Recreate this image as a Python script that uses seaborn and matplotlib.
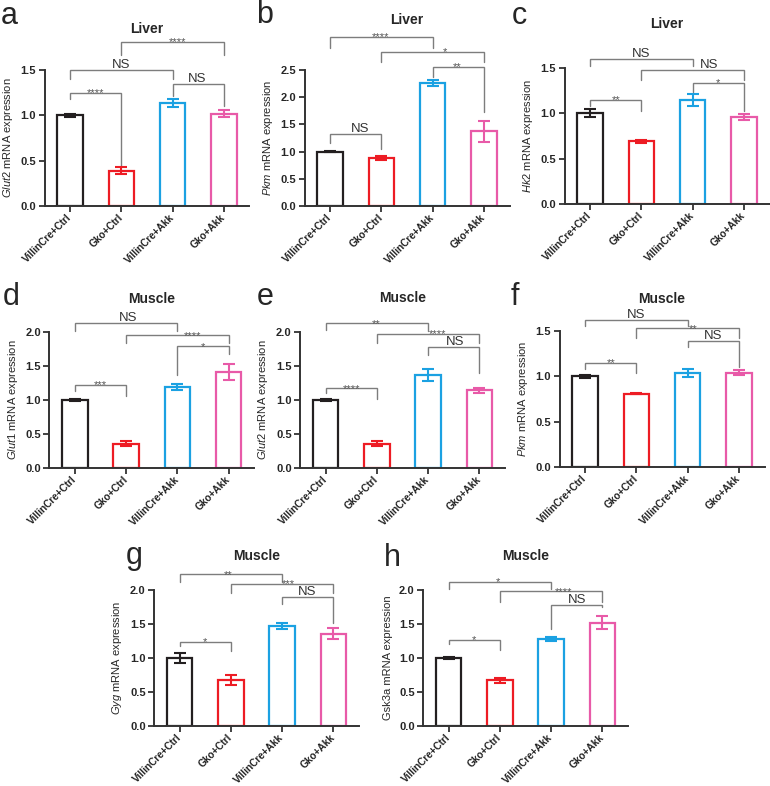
import numpy as np
import pandas as pd
import matplotlib
matplotlib.use('Agg')
import matplotlib.pyplot as plt
from matplotlib.ticker import FormatStrFormatter
import seaborn as sns

# groups shared by every panel
groups = ['VillinCre+Ctrl', 'Gko+Ctrl', 'VillinCre+Akk', 'Gko+Akk']
colors = ['#231f20', '#ed1c24', '#1ba1e2', '#e85aa8']

panel_letters = ['a', 'b', 'c', 'd', 'e', 'f', 'g', 'h']
tissues = ['Liver', 'Liver', 'Liver', 'Muscle', 'Muscle', 'Muscle', 'Muscle', 'Muscle']
genes = ['Glut2', 'Pkm', 'Hk2', 'Glut1', 'Glut2', 'Pkm', 'Gyg', 'Gsk3a']
gene_italic = [True, True, True, True, True, True, True, False]

# mean relative expression per group
means = [
    [1.00, 0.39, 1.14, 1.02],
    [1.00, 0.88, 2.26, 1.37],
    [1.00, 0.69, 1.15, 0.96],
    [1.00, 0.36, 1.19, 1.41],
    [1.00, 0.36, 1.37, 1.14],
    [1.00, 0.81, 1.04, 1.04],
    [1.00, 0.68, 1.47, 1.36],
    [1.00, 0.67, 1.28, 1.52],
]
sems = [
    [0.02, 0.035, 0.045, 0.035],
    [0.01, 0.03, 0.06, 0.19],
    [0.045, 0.02, 0.065, 0.03],
    [0.01, 0.03, 0.045, 0.12],
    [0.01, 0.03, 0.09, 0.03],
    [0.02, 0.005, 0.045, 0.025],
    [0.07, 0.07, 0.04, 0.08],
    [0.02, 0.04, 0.03, 0.10],
]
y_max = [1.5, 2.5, 1.5, 2.0, 2.0, 1.5, 2.0, 2.0]

# significance brackets: (label, bar i, bar j, bracket y, left leg end, right leg end, label x)
brackets = [
    [('****', 1, 3, 1.81, 1.66, 1.66, 2.09), ('NS', 0, 2, 1.50, 1.40, 1.40, 1.0),
     ('NS', 2, 3, 1.35, 1.21, 1.10, 2.48), ('****', 0, 1, 1.25, 1.18, 0.44, 0.49)],
    [('****', 0, 2, 3.11, 2.90, 2.90, 0.98), ('*', 1, 3, 2.84, 2.65, 2.65, 2.24),
     ('**', 2, 3, 2.56, 2.38, 1.73, 2.48), ('NS', 0, 1, 1.32, 1.15, 1.04, 0.59)],
    [('NS', 0, 2, 1.60, 1.52, 1.52, 1.0), ('NS', 1, 3, 1.48, 1.37, 1.37, 2.32),
     ('*', 2, 3, 1.335, 1.24, 1.03, 2.5), ('**', 0, 1, 1.15, 1.08, 1.03, 0.5)],
    [('NS', 0, 2, 2.13, 2.02, 2.02, 1.04), ('****', 1, 3, 1.95, 1.84, 1.84, 2.29),
     ('*', 2, 3, 1.79, 1.37, 1.68, 2.5), ('***', 0, 1, 1.22, 1.13, 1.06, 0.5)],
    [('**', 0, 2, 2.13, 2.03, 2.02, 0.98), ('****', 1, 3, 1.97, 1.84, 1.84, 2.19),
     ('NS', 2, 3, 1.78, 1.66, 1.39, 2.52), ('****', 0, 1, 1.17, 1.10, 1.02, 0.5)],
    [('NS', 0, 2, 1.62, 1.55, 1.55, 1.0), ('**', 1, 3, 1.53, 1.42, 1.42, 2.1),
     ('NS', 2, 3, 1.39, 1.32, 1.10, 2.5), ('**', 0, 1, 1.15, 1.08, 1.04, 0.5)],
    [('**', 0, 2, 2.23, 2.12, 2.12, 0.95), ('***', 1, 3, 2.09, 1.95, 1.95, 2.12),
     ('NS', 2, 3, 1.90, 1.80, 1.51, 2.49), ('*', 0, 1, 1.24, 1.17, 1.10, 0.5)],
    [('*', 0, 2, 2.12, 2.02, 2.02, 0.96), ('****', 1, 3, 1.98, 1.83, 1.83, 2.24),
     ('NS', 2, 3, 1.78, 1.42, 1.75, 2.5), ('*', 0, 1, 1.27, 1.20, 1.12, 0.5)],
]

W, H = 770, 786
# axes (left, top) in pixels, title y and panel letter position
layout = [
    (44.5, 70, 29, (1, 24)), (304.5, 70, 20, (256, 23)), (564.5, 68, 24.5, (512, 24)),
    (49.3, 332, 299, (3, 305)), (300, 332, 298, (257, 305)), (559.5, 331, 299, (511, 305)),
    (154, 590, 556, (126, 564)), (423, 590, 556, (384, 566)),
]
AX_W, AX_H = 205, 136

sns.set_style('ticks')
plt.rcParams['font.family'] = ['Liberation Sans', 'DejaVu Sans']
plt.rcParams['mathtext.fontset'] = 'custom'
plt.rcParams['mathtext.rm'] = 'Liberation Sans'
plt.rcParams['mathtext.it'] = 'Liberation Sans:italic'

fig = plt.figure(figsize=(W / 100, H / 100), dpi=100)


def draw_bracket(ax, b):
    label, i, j, y, yl, yr, lx = b
    ax.plot([i, i, j, j], [yl, y, y, yr], color='#7d7d7d', lw=1.0, clip_on=False,
            solid_joinstyle='miter')
    if label == 'NS':
        ax.annotate(label, (lx, y), xytext=(0, 1.5), textcoords='offset points',
                    ha='center', va='baseline', fontsize=9.5, color='#333333',
                    annotation_clip=False)
    else:
        ax.annotate(label, (lx, y), xytext=(0, -2.5), textcoords='offset points',
                    ha='center', va='baseline', fontsize=8, color='#555555',
                    annotation_clip=False)


for k in range(8):
    left, top, title_y, (lx, ly) = layout[k]
    ax = fig.add_axes([left / W, 1 - (top + AX_H) / H, AX_W / W, AX_H / H])
    df = pd.DataFrame({'group': groups, 'value': means[k]})
    sns.barplot(data=df, x='group', y='value', hue='group', palette=colors,
                fill=False, saturation=1, width=0.5, linewidth=1.6,
                errorbar=None, legend=False, ax=ax)
    for n in range(4):
        ax.errorbar(n, means[k][n], yerr=sems[k][n], fmt='none', ecolor=colors[n],
                    elinewidth=1.5, capsize=4.5, capthick=1.5, zorder=3)

    ax.set_xlim(-0.5, 3.5)
    ax.set_ylim(0, y_max[k])
    ax.set_yticks(np.arange(0, y_max[k] + 0.01, 0.5))
    ax.yaxis.set_major_formatter(FormatStrFormatter('%.1f'))
    ax.set_xlabel('')
    if gene_italic[k]:
        ylabel = r'$\mathit{' + genes[k] + '}$ mRNA expression'
    else:
        ylabel = genes[k] + ' mRNA expression'
    ax.set_ylabel(ylabel, fontsize=8, labelpad=4)
    sns.despine(ax=ax)
    for s in ['left', 'bottom']:
        ax.spines[s].set_linewidth(1.4)
        ax.spines[s].set_color('#333333')
    ax.tick_params(axis='both', length=4, width=1.3, color='#333333', pad=2)
    ax.tick_params(axis='x', pad=3)
    for t in ax.get_yticklabels():
        t.set_fontsize(8)
        t.set_fontweight('bold')
    ax.set_xticks(range(4))
    ax.set_xticklabels(groups, rotation=45, ha='right', va='center',
                       rotation_mode='anchor', fontsize=7.2, fontweight='bold',
                       color='#222222')

    for b in brackets[k]:
        draw_bracket(ax, b)

    fig.text((left + AX_W / 2) / W, 1 - title_y / H, tissues[k], ha='center',
             va='center', fontsize=10, fontweight='bold')
    fig.text(lx / W, 1 - ly / H, panel_letters[k], ha='left', va='baseline',
             fontsize=22)

fig.savefig('out.png', dpi=100)
